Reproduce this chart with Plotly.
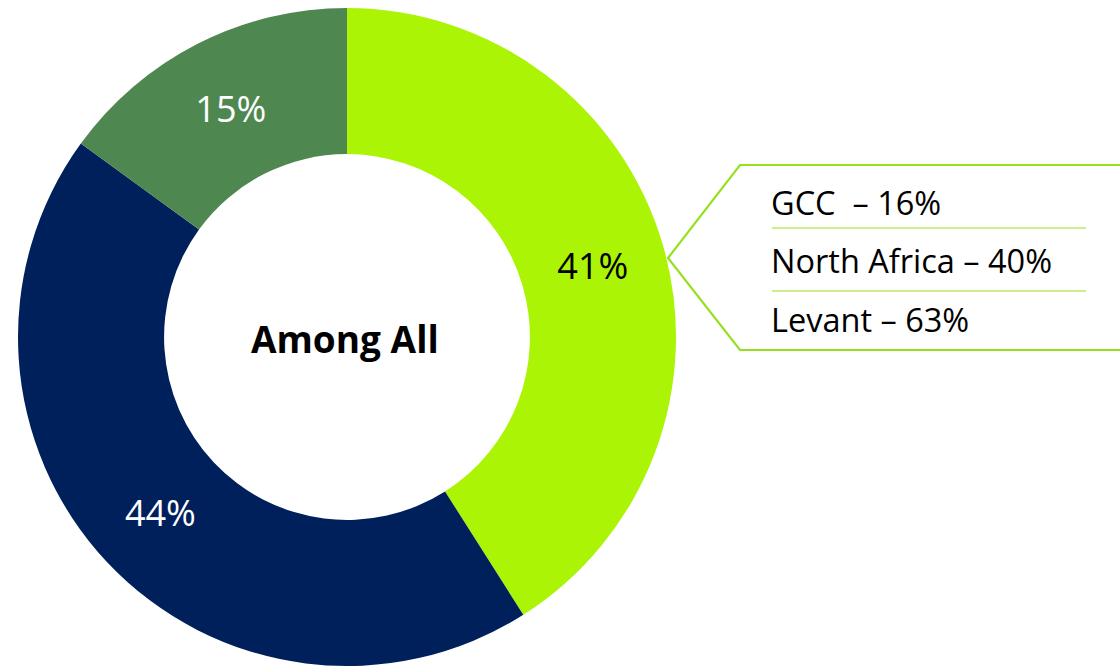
import plotly.graph_objects as go

labels = ["Segment A", "Segment B", "Segment C"]
values = [41, 44, 15]
colors = ["#ABF405", "#00205C", "#4E874F"]
text_colors = ["#000000", "#FFFFFF", "#FFFFFF"]
center_title = "Among All"
callout_lines = ["GCC  – 16%", "North Africa – 40%", "Levant – 63%"]

W, H = 1120, 668
FONT = "Open Sans"


def px(x):
    return x / W


def py(y):
    return 1 - y / H


fig = go.Figure()
fig.add_trace(go.Pie(
    labels=labels, values=values, hole=0.556, sort=False, direction="clockwise",
    rotation=0,
    marker=dict(colors=colors, line=dict(width=0)),
    texttemplate="%{value}%", textposition="inside",
    insidetextorientation="horizontal",
    textfont=dict(family=FONT, size=36, color=text_colors),
    domain=dict(x=[px(18), px(676)], y=[py(666), py(8)]),
    showlegend=False, hoverinfo="label+percent",
))

fig.add_annotation(x=px(345), y=py(338), xref="paper", yref="paper",
                   xanchor="center", yanchor="middle",
                   text="<b>" + center_title + "</b>", showarrow=False,
                   font=dict(family=FONT, size=37, color="#000000"))

line_col = "#96E11E"
fig.add_shape(type="path", xref="paper", yref="paper",
              path=f"M {px(1130)},{py(165)} L {px(740)},{py(165)} L {px(668)},{py(258)} "
                   f"L {px(740)},{py(350)} L {px(1130)},{py(350)}",
              line=dict(color=line_col, width=2.2))
for yy in (228, 291):
    fig.add_shape(type="line", xref="paper", yref="paper",
                  x0=px(772), x1=px(1086), y0=py(yy), y1=py(yy),
                  line=dict(color=line_col, width=1.2))
for txt, yy in zip(callout_lines, (202, 260, 319)):
    fig.add_annotation(x=px(769), y=py(yy), xref="paper", yref="paper",
                       text=txt, showarrow=False, xanchor="left", yanchor="middle",
                       font=dict(family=FONT, size=32.5, color="#000000"))

fig.update_layout(width=W, height=H, margin=dict(l=0, r=0, t=0, b=0),
                  paper_bgcolor="white", plot_bgcolor="white")
fig.write_html("out.html", config={"displayModeBar": False},
               post_script="document.body.style.margin='0';")
